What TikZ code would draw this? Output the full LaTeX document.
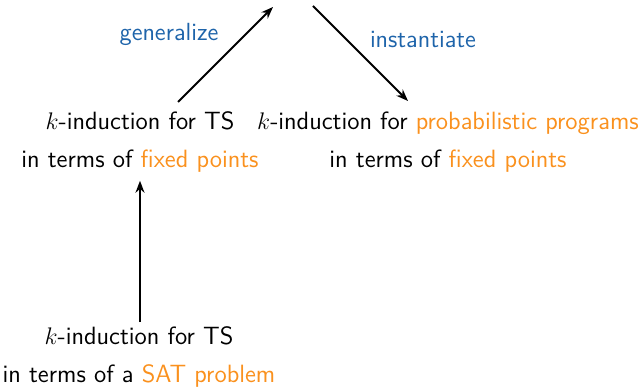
\documentclass[tikz,border=0pt]{standalone}
\usetikzlibrary{arrows.meta}
\definecolor{myorange}{RGB}{250,145,30}
\definecolor{myblue}{RGB}{30,100,170}
\begin{document}
\begin{tikzpicture}[x=0.5pt,y=-0.5pt,
  box/.style={font=\sffamily\fontsize{12.5}{19}\selectfont,align=center,inner sep=0pt},
  lbl/.style={font=\sffamily\fontsize{12.4}{14}\selectfont,text=myblue,inner sep=0pt},
  arr/.style={-{Stealth[length=6pt,width=4.5pt]},line width=0.9pt}]
\useasboundingbox (0,0) rectangle (638,389);
\node[box] (a) at (140,142) {$k$-induction for TS\\in terms of \textcolor{myorange}{fixed points}};
\node[box] (b) at (448,142) {$k$-induction for \textcolor{myorange}{probabilistic programs}\\in terms of \textcolor{myorange}{fixed points}};
\node[box] (c) at (139,357) {$k$-induction for TS\\in terms of a \textcolor{myorange}{SAT problem}};
\coordinate (g0) at (178,102);
\coordinate (g1) at (273,7);
\coordinate (i0) at (313,6);
\coordinate (i1) at (408,101);
\draw[arr,shorten <=2pt,shorten >=4pt] (c.north -| a.south) -- (a.south);
\draw[arr] (g0) -- (g1);
\draw[arr] (i0) -- (i1);
\node[lbl] (gl) at (169,34) {generalize};
\node[lbl] (il) at (423,40) {instantiate};
\end{tikzpicture}
\end{document}
